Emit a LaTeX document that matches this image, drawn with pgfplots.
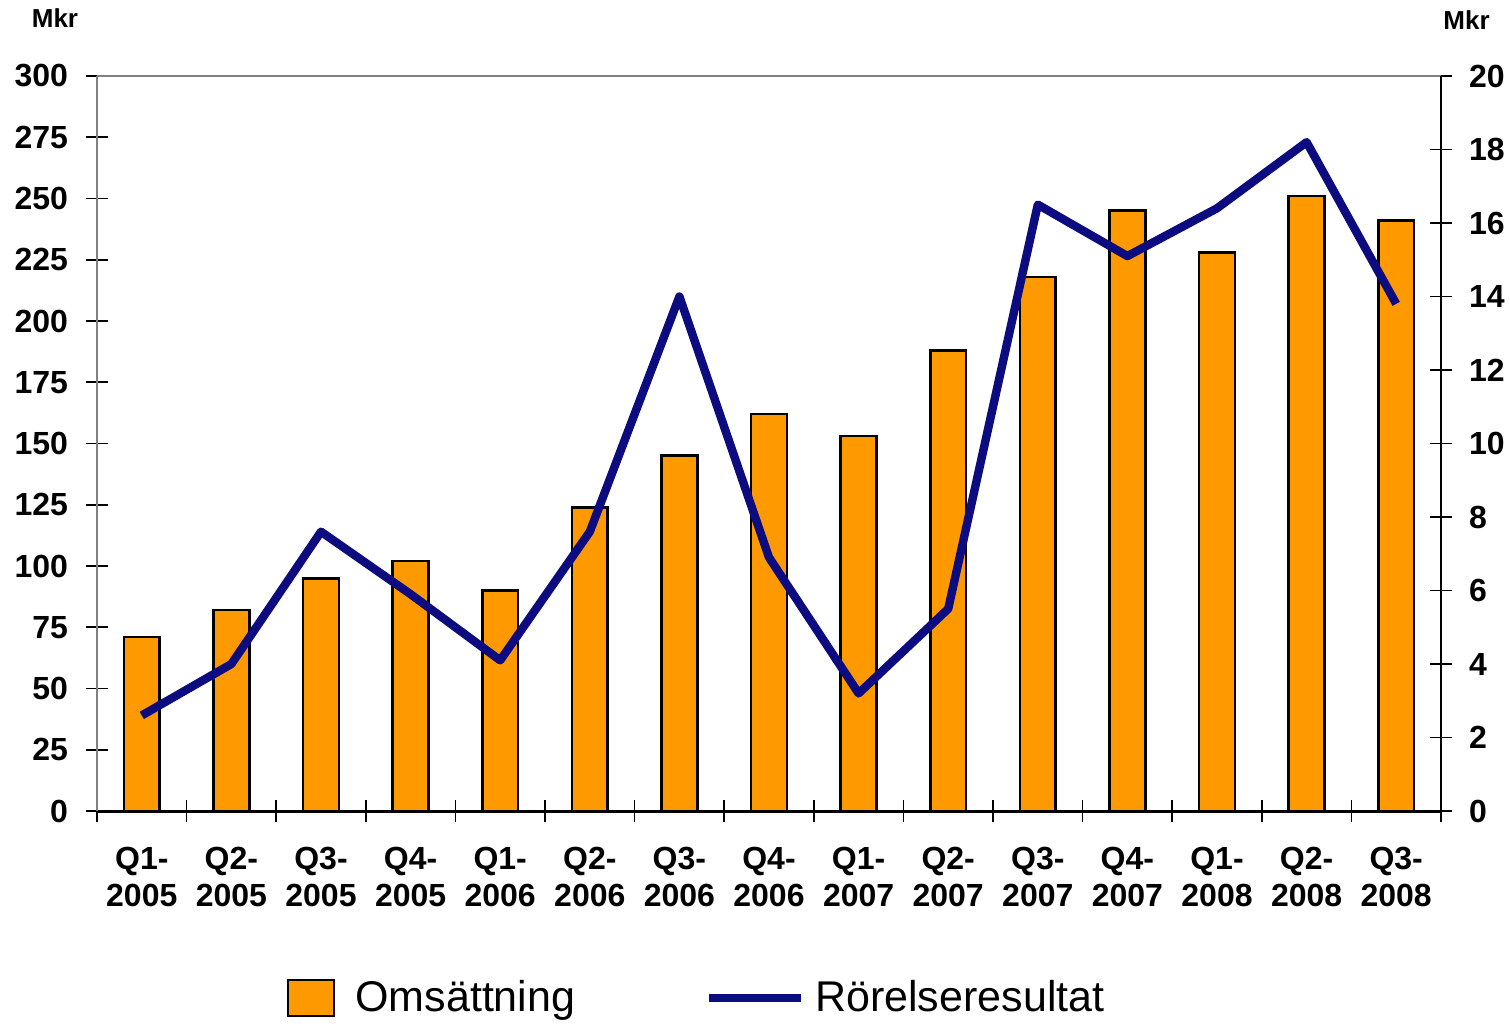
\documentclass[border=0pt]{standalone}
\usepackage{pgfplots}
\pgfplotsset{compat=1.18}
\usepackage{pgfplotstable}
\usepackage{fontspec}
\setmainfont{Liberation Sans}
\definecolor{barorange}{RGB}{255,153,0}
\definecolor{linenavy}{RGB}{12,12,128}
\pgfplotstableread{
x rev op
0 71 2.6
1 82 4.0
2 95 7.6
3 102 5.9
4 90 4.1
5 124 7.6
6 145 14.0
7 162 6.9
8 153 3.2
9 188 5.5
10 218 16.5
11 245 15.1
12 228 16.4
13 251 18.2
14 241 13.8
}\data
\begin{document}
\begin{tikzpicture}
\path[use as bounding box] (-48.5pt,-106pt) rectangle (706.5pt,405.5pt);
\begin{axis}[
  scale only axis, width=672pt, height=367.5pt,
  xmin=-0.5, xmax=14.5, ymin=0, ymax=300,
  axis x line*=bottom, axis y line*=left,
  x axis line style={black, line width=1.5pt},
  y axis line style={black!50, line width=1.2pt},
  xtick={-0.5,0.5,1.5,2.5,3.5,4.5,5.5,6.5,7.5,8.5,9.5,10.5,11.5,12.5,13.5,14.5},
  x tick label as interval,
  xticklabels={Q1-\\2005,Q2-\\2005,Q3-\\2005,Q4-\\2005,Q1-\\2006,Q2-\\2006,Q3-\\2006,Q4-\\2006,Q1-\\2007,Q2-\\2007,Q3-\\2007,Q4-\\2007,Q1-\\2008,Q2-\\2008,Q3-\\2008},
  ytick={0,25,...,300},
  tick align=center, major tick length=11pt,
  tick style={black, line width=0.8pt},
  /pgf/number format/assume math mode=true,
  yticklabel style={font=\fontsize{16pt}{16pt}\selectfont\bfseries, xshift=-5.5pt},
  xticklabel style={font=\fontsize{16pt}{18.5pt}\selectfont\bfseries, align=center, yshift=-9pt},
  legend style={at={(0.447,-0.254)}, anchor=center, draw=none, legend columns=2,
    font=\fontsize{21.5pt}{21.5pt}\selectfont,
    /tikz/every even column/.append style={column sep=63pt}},
  extra description/.code={
    \node[font=\fontsize{13pt}{13pt}\selectfont\bfseries] at (rel axis cs:-0.03125,1.079) {Mkr};
    \node[font=\fontsize{13pt}{13pt}\selectfont\bfseries] at (rel axis cs:1.019,1.076) {Mkr};
  },
]
\addplot[ybar, bar width=0.4, fill=barorange, draw=black, line width=1.3pt,
  legend image code/.code={\draw[fill=barorange, draw=black, line width=1pt] (0pt,-9pt) rectangle (23pt,9pt); \path (31pt,0pt);}]
  table[x=x, y=rev]{\data};
\addlegendentry{Omsättning}
\addlegendimage{linenavy, line width=4pt,
  legend image code/.code={\draw[linenavy, line width=4pt] (0pt,0pt) -- (46pt,0pt); \path (49pt,0pt);}}
\addlegendentry{Rörelseresultat}
\end{axis}
\begin{axis}[
  scale only axis, width=672pt, height=367.5pt,
  xmin=-0.5, xmax=14.5, ymin=0, ymax=20,
  axis x line*=top, axis y line*=right,
  x axis line style={black!50, line width=1.2pt},
  y axis line style={black, line width=1.2pt},
  xtick=\empty,
  ytick={0,2,...,20},
  tick align=center, major tick length=11pt,
  tick style={black, line width=0.8pt},
  /pgf/number format/assume math mode=true,
  yticklabel style={font=\fontsize{16pt}{16pt}\selectfont\bfseries, xshift=5pt},
]
\addplot[linenavy, line width=4.2pt, line join=round] table[x=x, y=op]{\data};
\end{axis}
\end{tikzpicture}
\end{document}
